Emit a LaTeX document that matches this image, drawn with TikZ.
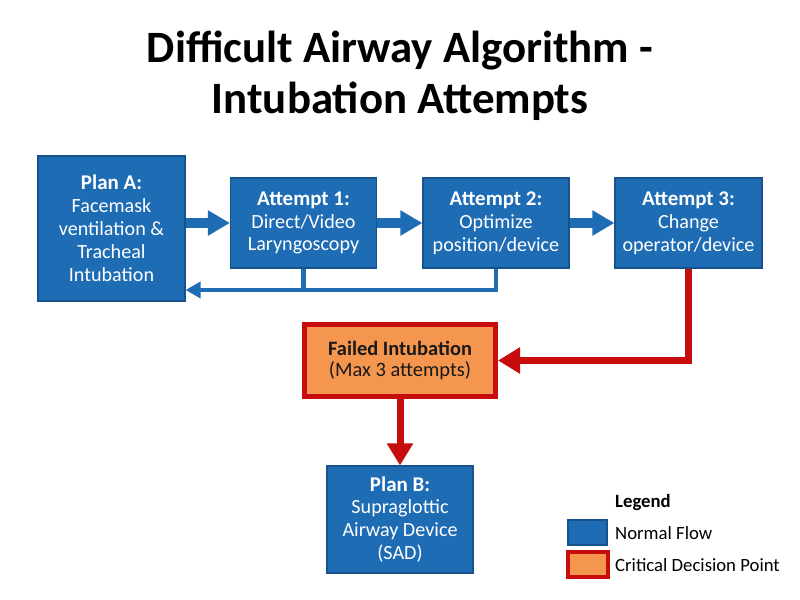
\documentclass[tikz,border=0pt]{standalone}
\usepackage{fontspec}
\setmainfont{Carlito}
\usetikzlibrary{arrows.meta}
\definecolor{bfill}{RGB}{30,108,180}
\definecolor{bline}{RGB}{22,82,140}
\definecolor{cred}{RGB}{198,12,12}
\definecolor{corange}{RGB}{245,150,78}
\definecolor{dtext}{RGB}{25,25,25}
\newcommand{\hd}[1]{{\bfseries\fontsize{21}{23}\selectfont #1}}
\begin{document}
\begin{tikzpicture}[x=1bp,y=-1bp,
  bluebox/.style={draw=bline, line width=1.2bp, fill=bfill, text=white, inner sep=0pt, align=center,
    font=\fontsize{20.2}{23}\selectfont},
  critbox/.style={draw=cred, line width=5bp, fill=corange, text=dtext, inner sep=0pt, align=center,
    font=\fontsize{20.5}{22}\selectfont},
  blockarrow/.style={draw=bfill, line width=10bp, -{Triangle[width=24bp,length=22bp]}},
  fbline/.style={draw=bfill, line width=4.5bp},
  fbarrow/.style={draw=bfill, line width=4.5bp, -{Triangle[width=16bp,length=15bp]}},
  redarrow/.style={draw=cred, line width=7bp, line join=miter, -{Triangle[width=25bp,length=22bp]}},
  legtext/.style={anchor=west, inner sep=0pt, text=black, font=\fontsize{18.8}{22}\selectfont}
]
\useasboundingbox (0,0) rectangle (800,600);

% title
\node[align=center, font=\bfseries\fontsize{45}{51}\selectfont] (title) at (400,76)
  {Difficult Airway Algorithm -\\Intubation Attempts};

% boxes
\node[bluebox, minimum width=147bp, minimum height=145bp] (pa) at (111.5,228.5)
  {\hd{Plan A:}\\Facemask\\ventilation \&\\Tracheal\\Intubation};
\node[bluebox, minimum width=146bp, minimum height=90bp] (a1) at (303.5,223)
  {\hd{Attempt 1:}\\Direct/Video\\Laryngoscopy};
\node[bluebox, minimum width=146bp, minimum height=90bp] (a2) at (496,223)
  {\hd{Attempt 2:}\\Optimize\\position/device};
\node[bluebox, minimum width=147bp, minimum height=90bp] (a3) at (688.5,223)
  {\hd{Attempt 3:}\\Change\\operator/device};
\node[critbox, minimum width=191bp, minimum height=72bp] (fail) at (400,360.5)
  {\textbf{Failed Intubation}\\(Max 3 attempts)};
\node[bluebox, minimum width=146bp, minimum height=107bp] (pb) at (400,519.5)
  {\hd{Plan B:}\\Supraglottic\\Airway Device\\(SAD)};

% forward arrows
\draw[blockarrow] (pa.east |- a1.west) -- (a1.west);
\draw[blockarrow] (a1.east) -- (a2.west);
\draw[blockarrow] (a2.east) -- (a3.west);

% feedback loop
\coordinate (fby) at (0,290);
\draw[fbline] (a1.south) -- (a1.south |- fby);
\draw[fbarrow] (a2.south) -- (a2.south |- fby) -- (pa.east |- fby);

% critical path
\draw[redarrow] (a3.south) |- (fail.east);
\draw[redarrow] (fail.south) -- (pb.north);

% legend
\node[legtext, font=\bfseries\fontsize{18.8}{22}\selectfont] (legtitle) at (615,503) {Legend};
\node[draw=bline, line width=1.2bp, fill=bfill, minimum width=39bp, minimum height=25bp, inner sep=0pt] (lgblue) at (587.5,532.5) {};
\node[draw=cred, line width=4bp, fill=corange, minimum width=40bp, minimum height=25bp, inner sep=0pt] (lgcrit) at (588,564.5) {};
\node[legtext] (lgbluet) at (615,533) {Normal Flow};
\node[legtext] (lgcritt) at (615,565) {Critical Decision Point};
\end{tikzpicture}
\end{document}
